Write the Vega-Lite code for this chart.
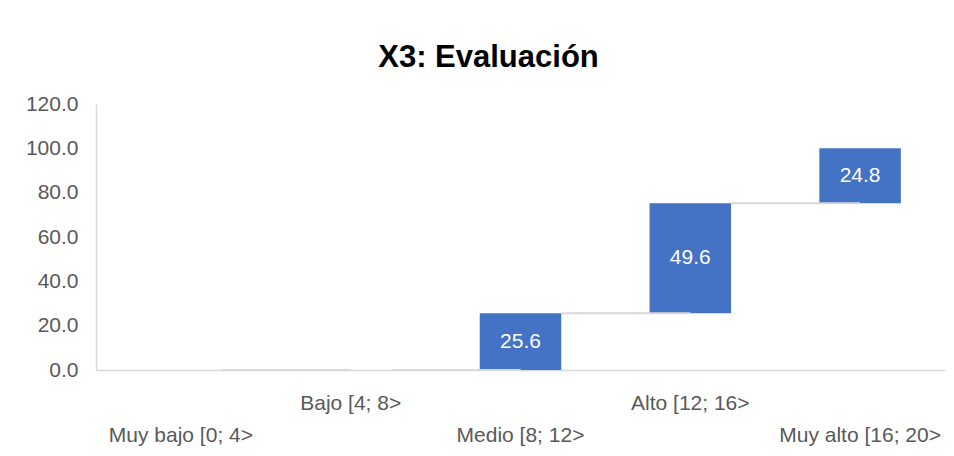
{
  "$schema": "https://vega.github.io/schema/vega-lite/v6.json",
  "width": 849,
  "height": 266,
  "autosize": "none",
  "padding": {"left": 96, "top": 104, "right": 9, "bottom": 86},
  "background": "white",
  "config": {"view": {"stroke": null}, "font": "Liberation Sans"},
  "title": {
    "text": "X3: Evaluación",
    "font": "Liberation Sans",
    "fontSize": 31,
    "fontWeight": "bold",
    "color": "#000000",
    "anchor": "middle",
    "frame": "group",
    "baseline": "alphabetic",
    "offset": -5,
    "dx": -32
  },
  "data": {
    "values": [
      {"categoria": "Muy bajo [0; 4>", "valor": 0, "inicio": 0, "fin": 0, "siguiente": "Bajo [4; 8>"},
      {"categoria": "Bajo [4; 8>", "valor": 0, "inicio": 0, "fin": 0, "siguiente": "Medio [8; 12>"},
      {"categoria": "Medio [8; 12>", "valor": 25.6, "inicio": 0, "fin": 25.6, "siguiente": "Alto [12; 16>"},
      {"categoria": "Alto [12; 16>", "valor": 49.6, "inicio": 25.6, "fin": 75.2, "siguiente": "Muy alto [16; 20>"},
      {"categoria": "Muy alto [16; 20>", "valor": 24.8, "inicio": 75.2, "fin": 100.0, "siguiente": null}
    ]
  },
  "encoding": {
    "x": {
      "field": "categoria",
      "type": "nominal",
      "sort": null,
      "scale": {"paddingInner": 0.52, "paddingOuter": 0.26},
      "axis": {
        "title": null,
        "labelAngle": 0,
        "labelFontSize": 21,
        "labelColor": "#595959",
        "labelBaseline": "top",
        "labelPadding": 22,
        "labelLineHeight": 32,
        "ticks": false,
        "domainColor": "#d9d9d9",
        "domainWidth": 1.5,
        "labelOverlap": false,
        "labelExpr": "indexof(['Bajo [4; 8>', 'Alto [12; 16>'], datum.label) >= 0 ? datum.label : ['', datum.label]"
      }
    }
  },
  "layer": [
    {
      "mark": {"type": "bar", "color": "#4472c4"},
      "encoding": {
        "y": {
          "field": "inicio",
          "type": "quantitative",
          "scale": {"domain": [0, 120], "nice": false},
          "axis": {
            "title": null,
            "values": [0, 20, 40, 60, 80, 100, 120],
            "format": ".1f",
            "grid": false,
            "ticks": false,
            "labelFontSize": 21,
            "labelColor": "#595959",
            "labelPadding": 18,
            "domainColor": "#d9d9d9",
            "domainWidth": 1.5
          }
        },
        "y2": {"field": "fin"}
      }
    },
    {
      "transform": [{"filter": "datum.siguiente != null"}],
      "mark": {"type": "rule", "color": "#d9d9d9", "strokeWidth": 2},
      "encoding": {
        "x": {"field": "categoria", "type": "nominal", "sort": null, "bandPosition": 1},
        "x2": {"field": "siguiente"},
        "y": {"field": "fin", "type": "quantitative"}
      }
    },
    {
      "transform": [{"filter": "datum.valor > 0"}, {"calculate": "(datum.inicio + datum.fin) / 2", "as": "medio"}],
      "mark": {"type": "text", "color": "white", "fontSize": 21, "baseline": "middle", "align": "center"},
      "encoding": {
        "y": {"field": "medio", "type": "quantitative"},
        "text": {"field": "valor", "type": "quantitative", "format": ".1f"}
      }
    }
  ]
}
